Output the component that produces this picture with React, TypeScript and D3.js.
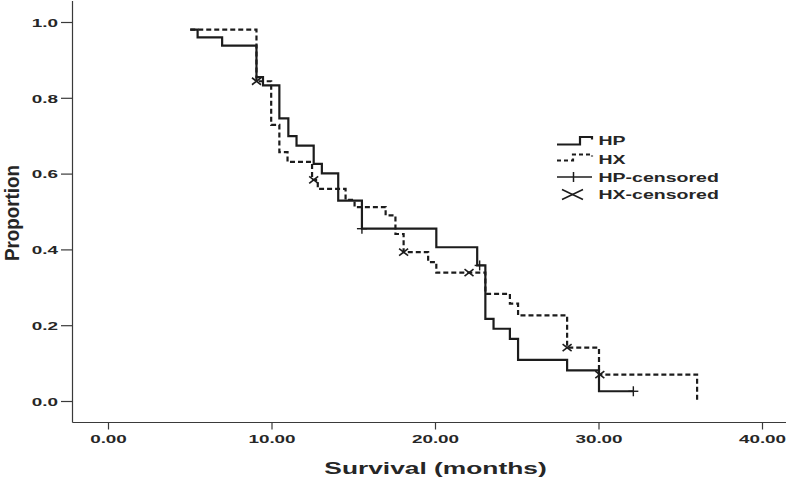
import React from 'react';
import * as d3 from 'd3';

// ---- Data ----
const xTicks = [0, 10, 20, 30, 40];
const xTickLabels = ['0.00', '10.00', '20.00', '30.00', '40.00'];
const yTicks = [0, 0.2, 0.4, 0.6, 0.8, 1.0];
const yTickLabels = ['0.0', '0.2', '0.4', '0.6', '0.8', '1.0'];

const hpTimes = [5.0, 5.45, 6.95, 9.05, 9.45, 10.45, 11.0, 11.5, 12.55, 13.05, 14.05, 15.5, 20.05, 22.55, 23.05, 23.55, 24.55, 25.05, 28.05, 30.0];
const hpSurv = [0.981, 0.961, 0.939, 0.856, 0.834, 0.747, 0.7, 0.675, 0.627, 0.602, 0.53, 0.456, 0.407, 0.359, 0.218, 0.192, 0.165, 0.11, 0.082, 0.027];
const hpEndTime = 32.1;
const hpCensorTimes = [15.5, 22.7, 32.1];

const hxTimes = [5.0, 9.05, 9.95, 10.45, 10.95, 12.45, 12.8, 14.5, 15.05, 16.95, 17.55, 18.05, 19.55, 20.05, 23.05, 24.55, 25.05, 28.05, 30.0, 36.0];
const hxSurv = [0.981, 0.845, 0.73, 0.658, 0.632, 0.585, 0.561, 0.532, 0.513, 0.491, 0.442, 0.394, 0.368, 0.34, 0.284, 0.258, 0.227, 0.142, 0.071, 0.0];
const hxCensorTimes = [9.05, 12.55, 18.05, 22.05, 28.05, 30.05];

const legendLabels = ['HP', 'HX', 'HP-censored', 'HX-censored'];
const xTitle = 'Survival (months)';
const yTitle = 'Proportion';

// ---- Layout ----
const W = 800;
const H = 480;
const x = d3.scaleLinear().domain([0, 30]).range([108.5, 599]);
const y = d3.scaleLinear().domain([0, 1]).range([401.5, 22.5]);
const axisX = 72.5;
const axisY = 422.5;
const FONT = '"Liberation Sans", Arial, sans-serif';
const INK = '#1c1c1c';
const TXT = '#262626';
const SX = 1.6; // horizontal stretch of the text in the reference

const levelAt = (times: number[], surv: number[], t: number) => {
  let v = surv[0];
  for (let i = 0; i < times.length; i++) if (times[i] <= t + 1e-9) v = surv[i];
  return v;
};

const stepLine = d3
  .line<[number, number]>()
  .x((d) => x(d[0]))
  .y((d) => y(d[1]))
  .curve(d3.curveStepAfter);

const hpPoints: [number, number][] = hpTimes.map((t, i) => [t, hpSurv[i]] as [number, number]);
hpPoints.push([hpEndTime, hpSurv[hpSurv.length - 1]]);
const hxPoints: [number, number][] = hxTimes.map((t, i) => [t, hxSurv[i]] as [number, number]);

function SText(props: {
  x: number;
  y: number;
  anchor?: string;
  size: number;
  weight?: string | number;
  sx?: number;
  children: React.ReactNode;
}) {
  const { x: tx, y: ty, anchor = 'start', size, weight = 'bold', sx = SX, children } = props;
  return (
    <g transform={`translate(${tx},${ty}) scale(${sx},1)`}>
      <text x={0} y={0} textAnchor={anchor} fontSize={size} fontWeight={weight} fontFamily={FONT} fill={TXT}>
        {children}
      </text>
    </g>
  );
}

export default function App() {
  const hpCensor = hpCensorTimes.map((t) => [x(t), y(levelAt(hpTimes, hpSurv, t))]);
  const hxCensor = hxCensorTimes.map((t) => [x(t), y(levelAt(hxTimes, hxSurv, t))]);
  const legendRows = [140.5, 159.5, 177, 194.5];
  return (
    <div style={{ position: 'fixed', left: 0, top: 0 }}>
      <svg width={W} height={H} viewBox={`0 0 ${W} ${H}`} style={{ display: 'block', background: '#fff' }}>
        <rect x={0} y={0} width={W} height={H} fill="#fff" />
        {/* axes */}
        <line x1={axisX} y1={1} x2={axisX} y2={axisY} stroke="#3a3a3a" strokeWidth={1.2} />
        <line x1={axisX} y1={axisY} x2={786} y2={axisY} stroke="#3a3a3a" strokeWidth={1.2} />
        {yTicks.map((v, i) => (
          <g key={'yt' + i}>
            <line x1={61} x2={axisX} y1={y(v)} y2={y(v)} stroke="#3a3a3a" strokeWidth={1.2} />
            <SText x={58} y={y(v) + 4.3} anchor="end" size={11.8}>
              {yTickLabels[i]}
            </SText>
          </g>
        ))}
        {xTicks.map((v, i) => (
          <g key={'xt' + i}>
            <line x1={x(v)} x2={x(v)} y1={axisY} y2={axisY + 7} stroke="#3a3a3a" strokeWidth={1.2} />
            <SText x={x(v)} y={443} anchor="middle" size={11.8}>
              {xTickLabels[i]}
            </SText>
          </g>
        ))}
        <SText x={x(20)} y={474} anchor="middle" size={17} sx={1.55}>
          {xTitle}
        </SText>
        <g transform={`translate(19,213) rotate(-90) scale(0.94,1.05)`}>
          <text x={0} y={0} textAnchor="middle" fontSize={20} fontWeight="bold" fontFamily={FONT} fill={TXT}>
            {yTitle}
          </text>
        </g>

        {/* curves */}
        <path d={stepLine(hxPoints) || ''} fill="none" stroke={INK} strokeWidth={2.2} strokeDasharray="5,3" />
        <path d={stepLine(hpPoints) || ''} fill="none" stroke={INK} strokeWidth={2.2} />

        {/* censor marks */}
        {hpCensor.map(([cx, cy], i) => (
          <g key={'hpc' + i} stroke={INK} strokeWidth={1.4}>
            <line x1={cx - 5} x2={cx + 5} y1={cy} y2={cy} />
            <line x1={cx} x2={cx} y1={cy - 5} y2={cy + 5} />
          </g>
        ))}
        {hxCensor.map(([cx, cy], i) => (
          <g key={'hxc' + i} stroke={INK} strokeWidth={1.6}>
            <line x1={cx - 4.5} x2={cx + 4.5} y1={cy - 3.5} y2={cy + 3.5} />
            <line x1={cx - 4.5} x2={cx + 4.5} y1={cy + 3.5} y2={cy - 3.5} />
          </g>
        ))}

        {/* legend */}
        <path d={`M557,${legendRows[0] + 4} H580 V${legendRows[0] - 3.5} H592 V${legendRows[0] - 1}`} fill="none" stroke={INK} strokeWidth={2.2} />
        <path d={`M557,${legendRows[1] + 1} H573 V${legendRows[1] - 5} H592 V${legendRows[1] - 3}`} fill="none" stroke={INK} strokeWidth={2.2} strokeDasharray="4,3" />
        <g stroke={INK} strokeWidth={1.5}>
          <line x1={557} x2={592} y1={legendRows[2]} y2={legendRows[2]} />
          <line x1={573.5} x2={573.5} y1={legendRows[2] - 5} y2={legendRows[2] + 5} />
          <line x1={562} x2={583} y1={legendRows[3] - 5} y2={legendRows[3] + 5} />
          <line x1={562} x2={583} y1={legendRows[3] + 5} y2={legendRows[3] - 5} />
        </g>
        {legendLabels.map((lab, i) => (
          <SText key={'lg' + i} x={598.5} y={legendRows[i] + 4.5} size={12.2}>
            {lab}
          </SText>
        ))}
      </svg>
    </div>
  );
}
